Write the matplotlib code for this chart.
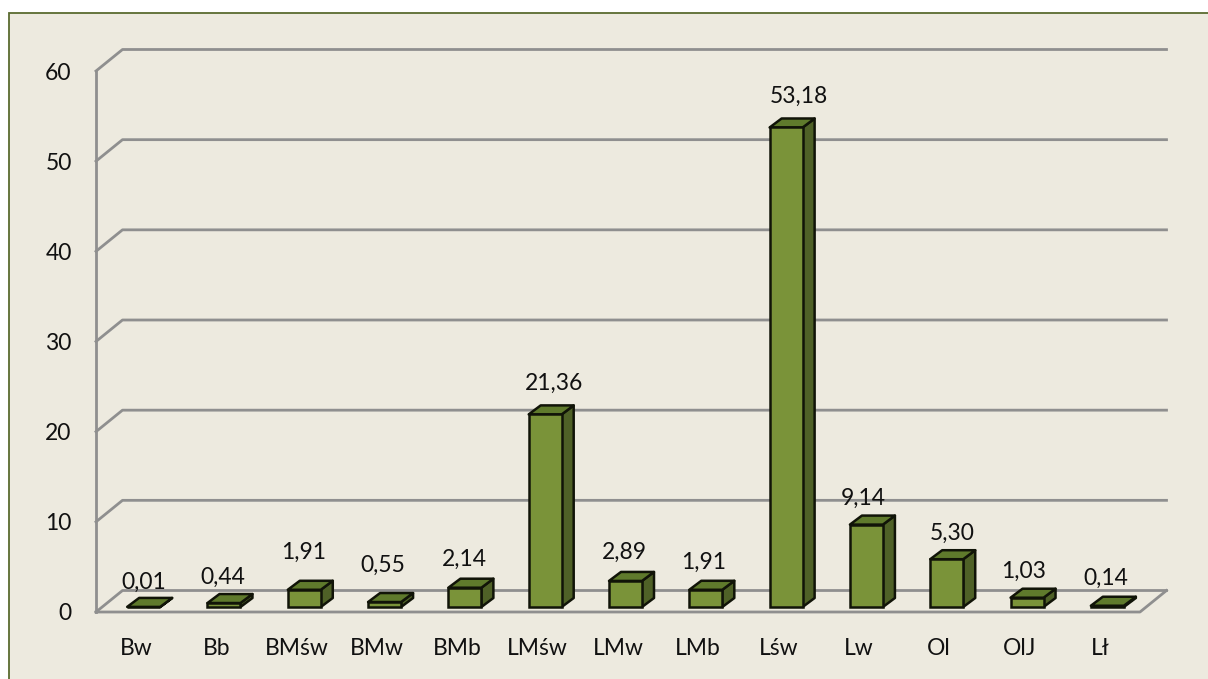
import matplotlib.pyplot as plt
from matplotlib.patches import Polygon, Rectangle

# dane
kategorie = ["Bw", "Bb", "BMśw", "BMw", "BMb", "LMśw", "LMw", "LMb", "Lśw", "Lw", "Ol", "OlJ", "Lł"]
wartosci = [0.01, 0.44, 1.91, 0.55, 2.14, 21.36, 2.89, 1.91, 53.18, 9.14, 5.30, 1.03, 0.14]
etykiety = ["0,01", "0,44", "1,91", "0,55", "2,14", "21,36", "2,89", "1,91", "53,18", "9,14", "5,30", "1,03", "0,14"]
podzialka = [0, 10, 20, 30, 40, 50, 60]

# przesuniecia etykiet w pikselach (x, y nad gorna krawedzia slupka)
etyk_dx = [0, -1, -1, -2, -1, 9, -1, -2, 13, -3, 5, -3, -2]
etyk_dy = [25, 26, 37, 37, 28, 31, 29, 27, 31, 26, 26, 26, 27]

plt.rcParams["font.family"] = ["Lato", "DejaVu Sans"]
rozmiar = 16.5

W, H = 1208, 679
fig = plt.figure(figsize=(W / 100, H / 100), dpi=100, facecolor="white")

# tlo z ramka (pod osiami)
fig.add_artist(Rectangle((8.5 / W, -0.02), 1.05, 1 - 12.5 / H + 0.02, transform=fig.transFigure,
                         facecolor="#EDEADF", edgecolor="#5A6B2F", linewidth=1.3, zorder=-1))

ax = fig.add_axes([96 / W, 1 - 612 / H, (1140 - 96) / W, (612 - 71) / H])
ax.set_xlim(-0.5, 12.5)
ax.set_ylim(0, 60)
ax.patch.set_alpha(0)
for s in ax.spines.values():
    s.set_visible(False)

px_x = 1044 / 13
px_y = 541 / 60
gleb_x = 26.5 / px_x
gleb_y = 21.5 / px_y

# sciana i podloga
szary = "#8F8F8F"
for y in podzialka:
    ax.plot([-0.5, -0.5 + gleb_x, 12.5 + gleb_x], [y, y + gleb_y, y + gleb_y],
            color=szary, lw=2, clip_on=False, zorder=1)
ax.plot([-0.5, -0.5], [0, 60], color=szary, lw=2, clip_on=False, zorder=1)
ax.plot([-0.5, 12.5, 12.5 + gleb_x], [0, 0, gleb_y], color=szary, lw=2, clip_on=False, zorder=1)

# slupki
szer = 33 / px_x
off_x = 7.5 / px_x
off_y = 5 / px_y
bok_x = 12 / px_x
bok_y = 9 / px_y
krawedz = "#111408"
for i, v in enumerate(wartosci):
    l = i + off_x - szer / 2
    r = l + szer
    d = off_y
    g = d + v
    ax.add_patch(Polygon([(r, d), (r + bok_x, d + bok_y), (r + bok_x, g + bok_y), (r, g)],
                         facecolor="#4F6127", edgecolor=krawedz, lw=1.8, zorder=3, joinstyle="round"))
    ax.add_patch(Polygon([(l, g), (r, g), (r + bok_x, g + bok_y), (l + bok_x, g + bok_y)],
                         facecolor="#5F7A2C", edgecolor=krawedz, lw=1.8, zorder=3, joinstyle="round"))
    ax.annotate(etykiety[i], (i + off_x, g), xytext=(etyk_dx[i] * 0.72, etyk_dy[i] * 0.72),
                textcoords="offset points", ha="center", va="center", fontsize=rozmiar,
                color="#111111", zorder=5, annotation_clip=False)
ax.bar([i + off_x for i in range(len(wartosci))], wartosci, szer, bottom=off_y,
       color="#7A9339", edgecolor=krawedz, linewidth=1.8, zorder=4)

ax.set_xticks(range(len(kategorie)))
ax.set_xticklabels(kategorie)
ax.set_yticks(podzialka)
ax.tick_params(axis="x", length=0, pad=18.5, labelsize=rozmiar, labelcolor="#111111")
ax.tick_params(axis="y", length=0, pad=17.5, labelsize=rozmiar, labelcolor="#111111")

fig.savefig("out.png", dpi=100, facecolor=fig.get_facecolor())
